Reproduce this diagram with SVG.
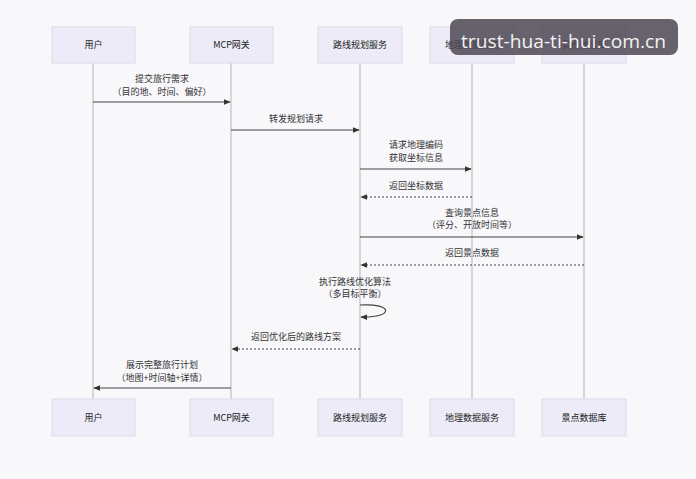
<svg xmlns="http://www.w3.org/2000/svg" width="696" height="479" viewBox="0 0 696 479">
<defs>
<marker id="ah" viewBox="0 0 10 10" refX="9" refY="5" markerWidth="7" markerHeight="7" orient="auto-start-reverse" markerUnits="userSpaceOnUse"><path d="M0,1 L10,5 L0,9 z" fill="#333"/></marker>
<style>
.box{fill:#ecebf7;stroke:#dcdbe8;stroke-width:1}
.nl{font-family:"Noto Sans CJK SC","Noto Sans",sans-serif;font-size:9px;fill:#222;text-anchor:middle}
.life{stroke:#b5b5b8;stroke-width:1}
.msg{stroke:#444;stroke-width:1.2;fill:none}
.dash{stroke:#444;stroke-width:1.2;stroke-dasharray:2,2;fill:none}
.ml{font-family:"Noto Sans CJK SC","Noto Sans",sans-serif;font-size:9px;fill:#333;text-anchor:middle}
</style>
</defs>
<rect width="696" height="479" fill="#f8f7fa"/>
<g id="lifelines">
<line class="life" x1="93" y1="63" x2="93" y2="399"/>
<line class="life" x1="231" y1="63" x2="231" y2="399"/>
<line class="life" x1="360" y1="63" x2="360" y2="399"/>
<line class="life" x1="472" y1="63" x2="472" y2="399"/>
<line class="life" x1="584" y1="63" x2="584" y2="399"/>
</g>
<g id="n-user-top"><rect class="box" x="52" y="27" width="83" height="36"/><text class="nl" x="93.5" y="48">用户</text></g>
<g id="n-mcp-top"><rect class="box" x="190" y="27" width="83" height="36"/><text class="nl" x="231.5" y="48">MCP网关</text></g>
<g id="n-route-top"><rect class="box" x="318" y="27" width="84" height="36"/><text class="nl" x="360" y="48">路线规划服务</text></g>
<g id="n-geo-top"><rect class="box" x="430" y="27" width="84" height="36"/><text class="nl" x="472" y="48">地理数据服务</text></g>
<g id="n-poi-top"><rect class="box" x="542" y="27" width="84" height="36"/><text class="nl" x="584" y="48">景点数据库</text></g>
<g id="n-user-bot"><rect class="box" x="52" y="399" width="83" height="37"/><text class="nl" x="93.5" y="421">用户</text></g>
<g id="n-mcp-bot"><rect class="box" x="190" y="399" width="83" height="37"/><text class="nl" x="231.5" y="421">MCP网关</text></g>
<g id="n-route-bot"><rect class="box" x="318" y="399" width="84" height="37"/><text class="nl" x="360" y="421">路线规划服务</text></g>
<g id="n-geo-bot"><rect class="box" x="430" y="399" width="84" height="37"/><text class="nl" x="472" y="421">地理数据服务</text></g>
<g id="n-poi-bot"><rect class="box" x="542" y="399" width="84" height="37"/><text class="nl" x="584" y="421">景点数据库</text></g>
<g id="connectors">
<text class="ml" x="162" y="82">提交旅行需求</text>
<text class="ml" x="162" y="95">（目的地、时间、偏好）</text>
<line class="msg" x1="93" y1="102" x2="230" y2="102" marker-end="url(#ah)"/>
<text class="ml" x="296" y="122">转发规划请求</text>
<line class="msg" x1="231" y1="130" x2="359" y2="130" marker-end="url(#ah)"/>
<text class="ml" x="416" y="148">请求地理编码</text>
<text class="ml" x="416" y="161">获取坐标信息</text>
<line class="msg" x1="360" y1="169" x2="471" y2="169" marker-end="url(#ah)"/>
<text class="ml" x="416" y="189">返回坐标数据</text>
<line class="dash" x1="472" y1="197" x2="361" y2="197" marker-end="url(#ah)"/>
<text class="ml" x="472" y="216">查询景点信息</text>
<text class="ml" x="472" y="228">（评分、开放时间等）</text>
<line class="msg" x1="360" y1="237" x2="583" y2="237" marker-end="url(#ah)"/>
<text class="ml" x="472" y="256">返回景点数据</text>
<line class="dash" x1="584" y1="265" x2="361" y2="265" marker-end="url(#ah)"/>
<text class="ml" x="355" y="285">执行路线优化算法</text>
<text class="ml" x="355" y="297">（多目标平衡）</text>
<path class="msg" d="M360,305 C394,303 394,318 361,317" marker-end="url(#ah)"/>
<text class="ml" x="296" y="340">返回优化后的路线方案</text>
<line class="dash" x1="360" y1="349" x2="232" y2="349" marker-end="url(#ah)"/>
<text class="ml" x="162" y="368">展示完整旅行计划</text>
<text class="ml" x="162" y="381">（地图+时间轴+详情）</text>
<line class="msg" x1="231" y1="388" x2="94" y2="388" marker-end="url(#ah)"/>
</g>
<g id="watermark">
<rect x="450" y="19" width="228" height="36" rx="8" fill="#4d4852" fill-opacity="0.85"/>
<text x="461" y="48" font-family="'Open Sans','Noto Sans',sans-serif" font-size="19" fill="#f2f2f4" textLength="205" lengthAdjust="spacingAndGlyphs">trust-hua-ti-hui.com.cn</text>
</g>
</svg>
